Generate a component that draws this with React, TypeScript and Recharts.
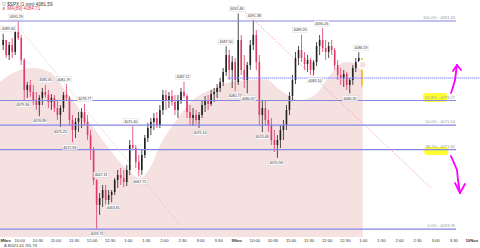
import React from "react";
import {
  ComposedChart,
  Bar,
  Area,
  XAxis,
  YAxis,
  ReferenceLine,
  ReferenceDot,
  ReferenceArea,
} from "recharts";

// 5-minute bars, minutes counted from 8 Nov 9:30 (trading minutes only)
const BAR_MINUTES = 5;

const OPEN = [
  4087.69, 4088.45, 4086.17, 4087.69, 4086.63, 4089.66, 4088.75, 4085.41, 4080.86, 4081.62,
  4080.56, 4079.34, 4078.58, 4079.65, 4080.56, 4080.1, 4079.04, 4079.65, 4078.13, 4077.07,
  4078.13, 4080.1, 4079.65, 4076.31, 4074.79, 4076.0, 4076.61, 4077.52, 4076.0, 4074.03,
  4071.75, 4067.2, 4063.41, 4064.47, 4065.68, 4064.17, 4064.92, 4065.38, 4067.2, 4067.96,
  4067.5, 4066.9, 4068.72, 4072.51, 4072.06, 4069.93, 4068.72, 4071.0, 4073.58, 4075.09,
  4076.0, 4076.61, 4075.55, 4077.83, 4080.1, 4079.34, 4079.95, 4079.04, 4077.83, 4079.34,
  4080.56, 4079.95, 4077.52, 4076.61, 4077.07, 4076.31, 4077.07, 4078.58, 4079.34, 4078.74,
  4080.25, 4080.56, 4081.16, 4082.07, 4083.59, 4086.17, 4083.9, 4085.11,
  4082.07, 4088.45, 4083.9, 4082.38, 4084.65, 4087.69, 4089.21, 4085.11, 4077.07, 4078.13,
  4076.31, 4075.55, 4073.27, 4072.51, 4073.27, 4074.79, 4075.55, 4077.83, 4079.95, 4082.38,
  4085.72, 4086.93, 4085.72, 4084.81, 4085.41, 4083.9, 4085.11, 4087.54, 4088.45, 4087.24,
  4086.63, 4087.54, 4086.93, 4084.65, 4083.14, 4082.68, 4083.29, 4081.62, 4082.38, 4084.2,
  4085.11, 4085.72,
];
const HIGH = [
  4089.4, 4088.45, 4088.15, 4088.75, 4089.97, 4091.29, 4089.21, 4085.72, 4082.07, 4082.38,
  4081.62, 4080.56, 4080.1, 4081.16, 4081.65, 4080.86, 4080.25, 4080.1, 4079.34, 4078.58,
  4080.56, 4081.79, 4079.95, 4077.07, 4076.61, 4077.52, 4078.13, 4078.77, 4077.07, 4074.79,
  4072.21, 4067.31, 4065.23, 4066.45, 4066.45, 4065.68, 4065.68, 4067.5, 4068.72, 4069.02,
  4068.72, 4069.48, 4073.27, 4075.4, 4072.51, 4071.0, 4071.75, 4074.03, 4075.85, 4076.61,
  4077.37, 4077.52, 4078.58, 4080.86, 4080.86, 4080.56, 4080.86, 4080.1, 4080.1, 4081.16,
  4082.12, 4080.25, 4078.58, 4078.13, 4077.83, 4077.52, 4079.34, 4079.95, 4080.1, 4080.86,
  4081.16, 4081.77, 4082.68, 4084.2, 4087.5, 4086.93, 4086.02, 4085.72,
  4092.48, 4089.21, 4086.17, 4085.11, 4088.45, 4091.38, 4089.97, 4086.17, 4079.34, 4079.34,
  4077.83, 4076.61, 4074.79, 4074.03, 4075.55, 4076.31, 4078.58, 4080.56, 4083.14, 4086.63,
  4087.54, 4089.26, 4086.63, 4086.17, 4085.72, 4085.41, 4088.15, 4089.21, 4090.26, 4088.45,
  4088.15, 4088.45, 4087.24, 4085.41, 4084.2, 4083.9, 4083.59, 4082.68, 4084.65, 4085.72,
  4086.59, 4085.72,
];
const LOW = [
  4086.93, 4085.72, 4085.41, 4085.72, 4086.17, 4088.45, 4084.65, 4079.36, 4079.65, 4079.8,
  4078.58, 4077.83, 4076.89, 4078.58, 4079.65, 4078.13, 4077.83, 4077.52, 4076.31, 4075.25,
  4077.52, 4079.34, 4075.55, 4072.93, 4073.58, 4074.49, 4075.09, 4075.55, 4073.27, 4070.24,
  4066.45, 4059.75, 4061.89, 4063.1, 4063.41, 4063.41, 4063.81, 4064.92, 4065.99, 4066.45,
  4066.14, 4066.29, 4067.96, 4071.75, 4069.02, 4067.75, 4067.96, 4070.54, 4072.97, 4074.03,
  4074.79, 4075.09, 4075.09, 4077.07, 4077.83, 4078.13, 4078.43, 4077.07, 4076.61, 4078.74,
  4079.65, 4076.61, 4075.55, 4075.4, 4075.7, 4075.1, 4076.61, 4077.52, 4077.83, 4078.43,
  4079.04, 4079.65, 4080.56, 4081.47, 4082.99, 4082.38, 4081.16, 4080.73,
  4081.62, 4083.14, 4081.16, 4080.37, 4083.9, 4086.93, 4083.9, 4075.55, 4074.48, 4075.55,
  4074.49, 4072.51, 4071.45, 4070.58, 4072.06, 4073.27, 4074.79, 4077.07, 4079.34, 4081.77,
  4084.65, 4085.11, 4083.9, 4083.59, 4083.14, 4083.1, 4084.5, 4086.17, 4086.63, 4085.41,
  4085.72, 4086.17, 4083.9, 4082.38, 4081.62, 4081.32, 4080.86, 4080.35, 4081.62, 4083.59,
  4084.5, 4081.32,
];
const CLOSE = [
  4088.45, 4086.17, 4087.69, 4086.63, 4089.66, 4088.75, 4085.41, 4080.86, 4081.62, 4080.56,
  4079.34, 4078.58, 4079.65, 4080.56, 4080.1, 4079.04, 4079.65, 4078.13, 4077.07, 4078.13,
  4080.1, 4079.65, 4076.31, 4074.79, 4076.0, 4076.61, 4077.52, 4076.0, 4074.03, 4071.75,
  4067.2, 4063.41, 4064.47, 4065.68, 4064.17, 4064.92, 4065.38, 4067.2, 4067.96, 4067.5,
  4066.9, 4068.72, 4072.51, 4072.06, 4069.93, 4068.72, 4071.0, 4073.58, 4075.09, 4076.0,
  4076.61, 4075.55, 4077.83, 4080.1, 4079.34, 4079.95, 4079.04, 4077.83, 4079.34, 4080.56,
  4079.95, 4077.52, 4076.61, 4077.07, 4076.31, 4077.07, 4078.58, 4079.34, 4078.74, 4080.25,
  4080.56, 4081.16, 4082.07, 4083.59, 4086.17, 4083.9, 4085.11, 4082.38,
  4088.45, 4083.9, 4082.38, 4084.65, 4087.69, 4089.21, 4085.11, 4077.07, 4078.13, 4076.31,
  4075.55, 4073.27, 4072.51, 4073.27, 4074.79, 4075.55, 4077.83, 4079.95, 4082.38, 4085.72,
  4086.93, 4085.72, 4084.81, 4085.41, 4083.9, 4085.11, 4087.54, 4088.45, 4087.24, 4086.63,
  4087.54, 4086.93, 4084.65, 4083.14, 4082.68, 4083.29, 4081.62, 4082.38, 4084.2, 4085.11,
  4085.72, 4081.59,
];

// MA(89)
const MA_MINUTES = [-2.8, 22, 52, 80, 105, 130, 155, 180, 205, 230, 246, 263, 288, 317, 346, 379, 412, 437, 462, 495, 520, 545, 570, 599];
const MA_VALUES = [
  4082.07, 4083.59, 4084.2, 4083.59, 4080.86, 4077.83, 4074.79, 4071.75, 4069.02, 4067.5, 4069.02, 4072.51,
  4076.0, 4079.34, 4080.86, 4082.07, 4082.38, 4082.53, 4080.86, 4079.34, 4080.1, 4083.14, 4085.11, 4084.71,
];

const TICK_LABELS = [
  "8Nov", "10:00", "10:30", "11:00", "11:30", "12:00", "12:30", "1:00", "1:30", "2:00", "2:30", "3:00", "3:30",
  "9Nov", "10:00", "10:30", "11:00", "11:30", "12:00", "12:30", "1:00", "1:30", "2:00", "2:30", "3:00", "3:30",
  "10Nov",
];
const TICKS = TICK_LABELS.map((_, i) => i * 30);

const FIB_NAMES = ["100.0%", "61.8%", "50.0%", "38.2%", "0.0%"];
const FIB_LEVELS = [4091.33, 4079.27, 4075.54, 4071.82, 4059.76];
const FIB_END = 754;

// swing high / low tags
const TAG_MINUTES = [11, 24, 35, 73, 63, 103, 97, 113, 138, 165, 158, 185, 214, 229, 329, 301, 372, 387, 390, 419, 409, 432, 455, 495, 520, 531, 578, 596];
const TAG_PRICES = [
  4089.4, 4091.29, 4079.36, 4081.65, 4076.89, 4081.79, 4075.25, 4072.93, 4078.77, 4067.31, 4059.75, 4063.81,
  4075.4, 4067.75, 4075.1, 4082.12, 4087.5, 4080.73, 4092.48, 4091.38, 4080.37, 4074.48, 4070.58, 4089.26,
  4083.1, 4090.26, 4080.35, 4086.59,
];
const TAG_ABOVE = [1, 1, 0, 1, 0, 1, 0, 0, 1, 1, 0, 0, 1, 0, 0, 1, 1, 0, 1, 1, 0, 0, 0, 1, 0, 1, 0, 1];

const TREND_GREY = [[25, 4090.73], [296, 4060.37]];
const TREND_RED = [[392, 4093.76], [714, 4065.84]];
const PRICE_LINE = 4082.68;
const PRICE_LINE_FROM = 375;

const HILITES = [
  [699, 739, 4079.04, 4080.41],
  [701, 741, 4071.0, 4072.21],
];
const ARROW_UP = [[745.5, 4080.41], [748.8, 4081.32], [752.1, 4082.38], [753.8, 4083.59], [755.4, 4084.65]];
const ARROW_UP_HEAD = [[748.8, 4083.74], [762.1, 4083.9]];
const ARROW_DOWN = [[745.5, 4070.84], [750.5, 4069.78], [755.4, 4068.72], [757.1, 4067.2], [760.4, 4065.23]];
const ARROW_DOWN_HEAD = [[752.1, 4066.75], [768.7, 4066.59]];

const X_DOMAIN = [-2.8, 793.6];
const Y_DOMAIN = [4058.55, 4094.52];
const FONT = "'Liberation Sans', Arial, sans-serif";

const candles = OPEN.map((o, i) => ({
  t: i * BAR_MINUTES + BAR_MINUTES / 2,
  open: o,
  high: HIGH[i],
  low: LOW[i],
  close: CLOSE[i],
  last: i === OPEN.length - 1,
}));
const maData = MA_MINUTES.map((t, i) => ({ t, ma: MA_VALUES[i] }));

function Candle(props: any) {
  const { x, y, width, height, payload } = props;
  if (x == null || y == null) return null;
  const top = Math.min(y, y + height);
  const h = Math.abs(height);
  const range = payload.high - payload.low || 1;
  const at = (v: number) => top + ((payload.high - v) / range) * h;
  const yo = at(payload.open);
  const yc = at(payload.close);
  const color = payload.last ? "#f2c200" : payload.close >= payload.open ? "#222" : "#df3a66";
  const cx = x + width / 2;
  return (
    <g>
      <line x1={cx} x2={cx} y1={top} y2={top + h} stroke={color} strokeWidth={0.8} />
      <rect x={cx - 0.8} y={Math.min(yo, yc)} width={1.6} height={Math.max(0.7, Math.abs(yc - yo))} fill={color} />
    </g>
  );
}

function AxisTick(props: any) {
  const { x, y, payload } = props;
  const label = TICK_LABELS[Math.round(payload.value / 30)];
  const bold = label.includes("Nov");
  // keep edge labels inside the frame
  const anchor = x < 8 ? "start" : x > 472 ? "end" : "middle";
  const tx = x < 8 ? 0.5 : x > 472 ? 479.5 : x;
  return (
    <text x={tx} y={y + 5} textAnchor={anchor} fontSize={4.2} fontFamily={FONT} fontWeight={bold ? 700 : 400} fill="#333">
      {label}
    </text>
  );
}

function segments(points: number[][], key: string, stroke: string) {
  return points.slice(1).map((p, i) => (
    <ReferenceLine
      key={`${key}${i}`}
      segment={[{ x: points[i][0], y: points[i][1] }, { x: p[0], y: p[1] }]}
      stroke={stroke}
      strokeWidth={1.8}
      strokeLinecap="round"
    />
  ));
}

export default function App() {
  return (
    <div style={{ position: "relative", width: 480, height: 248, background: "#fff" }}>
      <style>{"body{margin:0}"}</style>
      <ComposedChart width={480} height={248} data={candles} margin={{ top: 0, right: 0, bottom: 0, left: 0 }}>
        <XAxis
          type="number"
          dataKey="t"
          domain={X_DOMAIN}
          ticks={TICKS}
          interval={0}
          allowDataOverflow
          height={11}
          tickSize={0}
          tickMargin={0}
          tickLine={false}
          axisLine={false}
          tick={AxisTick}
        />
        <YAxis hide type="number" domain={Y_DOMAIN} allowDataOverflow />
        <Area
          data={maData}
          dataKey="ma"
          type="monotone"
          fill="#f6e1e1"
          fillOpacity={1}
          stroke="none"
          isAnimationActive={false}
        />
        {HILITES.map(([x1, x2, y1, y2], i) => (
          <ReferenceArea key={`h${i}`} x1={x1} x2={x2} y1={y1} y2={y2} fill="#ffff1a" fillOpacity={0.9} stroke="none" radius={3} />
        ))}
        {FIB_LEVELS.map((lv, i) => (
          <ReferenceLine
            key={`f${i}`}
            segment={[{ x: X_DOMAIN[0], y: lv }, { x: FIB_END, y: lv }]}
            stroke="#8585e6"
            strokeWidth={1.2}
          />
        ))}
        <ReferenceLine
          segment={[{ x: PRICE_LINE_FROM, y: PRICE_LINE }, { x: X_DOMAIN[1], y: PRICE_LINE }]}
          stroke="#8a8aff"
          strokeWidth={1.6}
          strokeDasharray="1 1"
        />
        <ReferenceLine
          segment={[{ x: TREND_GREY[0][0], y: TREND_GREY[0][1] }, { x: TREND_GREY[1][0], y: TREND_GREY[1][1] }]}
          stroke="#d8b4b4"
          strokeWidth={0.8}
          strokeDasharray="1 1.5"
        />
        <ReferenceLine
          segment={[{ x: TREND_RED[0][0], y: TREND_RED[0][1] }, { x: TREND_RED[1][0], y: TREND_RED[1][1] }]}
          stroke="#f08888"
          strokeWidth={0.9}
          strokeDasharray="1 1.5"
        />
        <Bar dataKey={(d: any) => [d.low, d.high]} barSize={2} shape={Candle} isAnimationActive={false} />
        {FIB_LEVELS.map((lv, i) => (
          <ReferenceDot
            key={`fl${i}`}
            x={FIB_END}
            y={lv}
            r={0}
            shape={(p: any) => (
              <text x={p.cx - 1} y={p.cy - 1.6} textAnchor="end" fontSize={4.1} fontFamily={FONT} fill="#999">
                {`${FIB_NAMES[i]} : ${lv.toFixed(2)}`}
              </text>
            )}
          />
        ))}
        {TAG_PRICES.map((pr, i) => (
          <ReferenceDot
            key={`t${i}`}
            x={TAG_MINUTES[i]}
            y={pr}
            r={0}
            shape={(p: any) => {
              const cy = TAG_ABOVE[i] ? p.cy - 4.6 : p.cy + 5;
              return (
                <g>
                  <rect x={p.cx - 7.5} y={cy - 2.6} width={15} height={5.2} fill="#fff" fillOpacity={0.9} stroke="#cfcfcf" strokeWidth={0.4} />
                  <text x={p.cx} y={cy + 1.3} textAnchor="middle" fontSize={3.6} fontFamily={FONT} fill="#333">
                    {pr.toFixed(2)}
                  </text>
                </g>
              );
            }}
          />
        ))}
        {segments(ARROW_UP, "au", "#ff00ff")}
        {segments([ARROW_UP_HEAD[0], ARROW_UP[ARROW_UP.length - 1], ARROW_UP_HEAD[1]], "auh", "#ff00ff")}
        {segments(ARROW_DOWN, "ad", "#ff00ff")}
        {segments([ARROW_DOWN_HEAD[0], ARROW_DOWN[ARROW_DOWN.length - 1], ARROW_DOWN_HEAD[1]], "adh", "#ff00ff")}
      </ComposedChart>
      <svg width={480} height={248} style={{ position: "absolute", left: 0, top: 0, pointerEvents: "none" }}>
        <text x={2} y={5.6} fontSize={4.6} fontFamily={FONT} fill="#333">
          ▽ $SPX (1 min) 4081.59
        </text>
        <text x={2} y={10.2} fontSize={4.6} fontFamily={FONT} fill="#e0305a">
          ∧ MA(89) 4084.71
        </text>
        <text x={4} y={247} fontSize={4.2} fontFamily={FONT} fill="#333">
          Δ 8/021.41 /35.73
        </text>
      </svg>
    </div>
  );
}
